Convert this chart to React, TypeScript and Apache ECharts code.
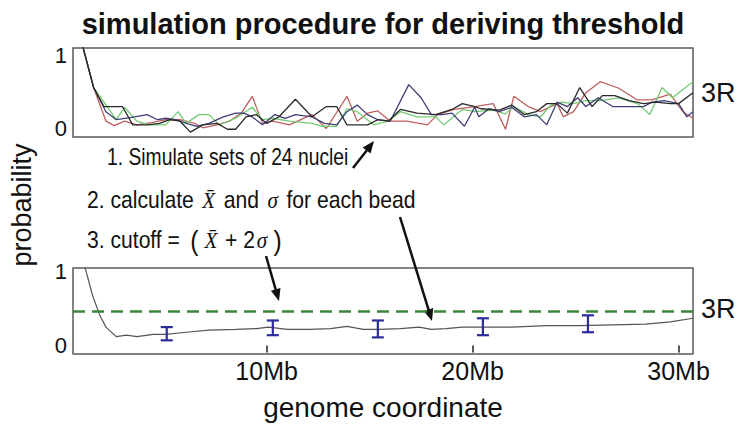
import React, { useEffect, useRef } from 'react';
import * as echarts from 'echarts';

const FONT = "'Liberation Sans', Arial, sans-serif";
const SERIF = "'Liberation Serif', 'Times New Roman', serif";

const X_MIN = 0.6;
const X_MAX = 30.7;
const xTickValues = [10, 20, 30];
const xTickLabels = ['10Mb', '20Mb', '30Mb'];
const yTickValues = [0, 1];

// simulated sets (top panel), [Mb, probability]
const redSet: [number, number][] = [[1.0,1.2],[1.6,0.56],[2.2,0.10],[2.6,0.04],[3.1,0.10],[3.7,0.05],[4.4,0.08],[5.1,0.12],[5.8,0.12],[6.5,0.07],[6.9,0.01],[7.6,0.05],[8.2,0.10],[8.8,0.22],[9.3,0.44],[9.8,0.07],[10.3,0.10],[11.1,0.05],[12.2,0.19],[12.9,0.0],[13.9,0.44],[14.4,0.10],[14.9,0.21],[15.4,0.24],[16.0,0.10],[16.8,0.10],[17.8,0.05],[18.3,0.19],[19.1,0.26],[20.1,0.30],[21.0,0.34],[21.6,-0.01],[22.0,0.44],[22.7,0.30],[23.3,0.23],[24.1,0.34],[24.4,0.16],[24.9,0.23],[25.5,0.49],[26.2,0.64],[27.1,0.55],[28.0,0.39],[28.7,0.39],[29.6,0.47],[30.2,0.23],[30.7,0.14]];
const greenSet: [number, number][] = [[1.0,1.2],[1.6,0.56],[2.7,0.12],[3.1,0.29],[3.7,0.10],[4.3,0.05],[5.1,0.05],[5.7,0.23],[6.1,0.07],[6.7,0.19],[7.2,0.19],[7.7,0.05],[8.5,0.14],[9.3,0.29],[9.8,0.12],[10.3,0.14],[11.1,0.10],[12.2,0.07],[12.7,0.03],[13.4,0.03],[13.9,0.27],[14.4,0.23],[15.2,0.05],[15.9,0.10],[16.5,0.23],[17.3,0.16],[18.2,0.16],[18.6,0.05],[19.5,0.26],[20.1,0.23],[21.0,0.25],[21.6,0.20],[22.0,0.30],[22.7,0.19],[23.3,0.16],[23.8,0.32],[24.3,0.36],[24.9,0.34],[25.5,0.38],[26.2,0.38],[27.1,0.42],[28.0,0.34],[28.6,0.19],[29.2,0.56],[29.7,0.42],[30.7,0.64]];
const navySet: [number, number][] = [[1.0,1.2],[1.6,0.56],[2.2,0.23],[2.7,0.12],[3.6,0.16],[4.2,0.19],[4.7,0.12],[5.1,0.14],[5.6,0.12],[6.1,0.07],[6.6,0.03],[7.2,0.07],[7.9,0.16],[8.5,0.21],[8.9,0.21],[9.3,0.16],[9.8,0.05],[10.4,0.19],[10.9,0.14],[11.4,0.19],[12.2,0.16],[12.8,0.07],[13.4,0.05],[13.9,0.23],[14.4,0.32],[14.9,0.19],[15.4,0.12],[16.0,0.10],[16.9,0.60],[17.5,0.42],[18.0,0.19],[18.5,0.19],[19.0,0.21],[19.6,0.03],[20.1,0.29],[20.3,0.16],[20.8,0.27],[21.3,0.23],[21.9,0.29],[22.5,0.16],[23.1,0.19],[23.6,0.05],[24.1,0.36],[24.6,0.30],[25.1,0.42],[25.5,0.30],[26.1,0.42],[26.8,0.30],[27.6,0.30],[28.3,0.30],[28.7,0.36],[29.3,0.38],[30.0,0.34],[30.4,0.16],[30.7,0.23]];
const blackSet: [number, number][] = [[1.0,1.2],[1.6,0.56],[2.1,0.30],[3.0,0.30],[3.5,0.05],[4.2,0.05],[4.8,0.07],[5.3,0.12],[5.8,0.10],[6.3,-0.05],[6.9,0.05],[7.6,0.07],[8.1,-0.01],[8.5,-0.01],[9.0,0.16],[9.5,0.19],[10.0,0.07],[10.6,0.16],[11.4,0.40],[12.2,0.16],[12.9,0.30],[13.4,0.30],[13.9,0.05],[14.9,0.05],[15.4,0.12],[15.9,0.10],[16.5,0.26],[17.3,0.21],[18.2,0.19],[19.0,0.26],[19.5,0.34],[20.1,0.30],[20.4,0.27],[21.3,0.25],[21.9,0.32],[22.5,0.19],[23.1,0.23],[23.6,0.34],[24.1,0.34],[24.6,0.21],[25.2,0.56],[25.8,0.30],[26.3,0.45],[26.9,0.45],[27.6,0.38],[28.3,0.34],[28.9,0.36],[29.6,0.34],[30.0,0.34],[30.7,0.49]];

// mean (bottom panel)
const meanLine: [number, number][] = [[1.1,1.15],[1.55,0.68],[1.9,0.41],[2.2,0.25],[2.7,0.12],[3.2,0.14],[3.7,0.12],[4.5,0.15],[5.1,0.15],[6.1,0.18],[7.2,0.21],[8.5,0.22],[9.5,0.23],[10.1,0.25],[11.0,0.22],[12.1,0.22],[13.1,0.23],[13.9,0.26],[14.7,0.22],[15.5,0.22],[16.5,0.23],[17.4,0.25],[18.0,0.22],[18.7,0.23],[19.5,0.25],[20.3,0.25],[21.9,0.25],[23.6,0.27],[25.2,0.27],[26.8,0.28],[28.4,0.29],[29.6,0.32],[30.7,0.37]];
const threshold = 0.47;

// error bars
const errX = [5.15, 10.3, 15.4, 20.5, 25.6];
const errLow = [0.07, 0.14, 0.11, 0.14, 0.18];
const errHigh = [0.25, 0.34, 0.34, 0.37, 0.41];

function arrow(x1: number, y1: number, x2: number, y2: number) {
  const head = 12, half = 5;
  const dx = x2 - x1, dy = y2 - y1;
  const len = Math.hypot(dx, dy);
  const ux = dx / len, uy = dy / len;
  const bx = x2 - ux * head, by = y2 - uy * head;
  const px = -uy, py = ux;
  return [
    { type: 'line', shape: { x1, y1, x2: bx + ux * 2, y2: by + uy * 2 }, style: { stroke: '#111', lineWidth: 2.5 } },
    { type: 'polygon', shape: { points: [[x2, y2], [bx + px * half, by + py * half], [bx - px * half, by - py * half]] }, style: { fill: '#111' } },
  ];
}

export default function App() {
  const ref = useRef<HTMLDivElement>(null);
  useEffect(() => {
    if (!ref.current) return;
    const chart = echarts.init(ref.current, undefined, { renderer: 'svg' });
    const yAxisBase = (gridIndex: number, min: number, max: number) => ({
      type: 'value', gridIndex, min, max,
      axisLine: { show: false }, axisTick: { show: false }, splitLine: { show: false },
      axisLabel: { customValues: yTickValues, fontSize: 22, color: '#111', margin: 6, fontFamily: FONT },
    });
    const lineSeries = (name: string, data: [number, number][], color: string) => ({
      name, type: 'line', xAxisIndex: 0, yAxisIndex: 0, data, showSymbol: false, symbol: 'none',
      lineStyle: { color, width: 1.3 }, clip: true, silent: true,
    });
    const option: any = {
      animation: false,
      textStyle: { fontFamily: FONT },
      grid: [
        { left: 73, top: 48, width: 620, height: 89, show: true, borderColor: '#5a5a5a', borderWidth: 1.5 },
        { left: 73, top: 268, width: 620, height: 86, show: true, borderColor: '#5a5a5a', borderWidth: 1.5 },
      ],
      xAxis: [
        { type: 'value', gridIndex: 0, min: X_MIN, max: X_MAX, axisLine: { show: false }, axisTick: { show: false }, axisLabel: { show: false }, splitLine: { show: false } },
        {
          type: 'value', gridIndex: 1, min: X_MIN, max: X_MAX, axisLine: { show: false },
          axisTick: { show: true, customValues: xTickValues, length: 7, lineStyle: { color: '#222', width: 1.5 } },
          axisLabel: { customValues: xTickValues, formatter: (v: number) => xTickLabels[xTickValues.indexOf(v)] ?? '', fontSize: 25, fontFamily: FONT, color: '#111', margin: 4 },
          splitLine: { show: false },
        },
      ],
      yAxis: [yAxisBase(0, -0.116, 1.10), yAxisBase(1, -0.116, 1.054)],
      series: [
        lineSeries('red', redSet, '#bf5f5f'),
        lineSeries('green', greenSet, '#74cc74'),
        lineSeries('navy', navySet, '#3f3f7a'),
        lineSeries('black', blackSet, '#2a2a2a'),
        {
          name: 'mean', type: 'line', xAxisIndex: 1, yAxisIndex: 1, data: meanLine, showSymbol: false, symbol: 'none',
          lineStyle: { color: '#555', width: 1.2 }, silent: true, clip: true,
          markLine: {
            silent: true, symbol: 'none', label: { show: false },
            lineStyle: { type: [12, 7], color: '#3a873a', width: 2.5 },
            data: [{ yAxis: threshold }],
          },
        },
        {
          name: 'err', type: 'custom', xAxisIndex: 1, yAxisIndex: 1, z: 5, silent: true,
          data: errX.map((x, i) => [x, errLow[i], errHigh[i]]),
          renderItem: (params: any, api: any) => {
            const x = api.value(0);
            const lo = api.coord([x, api.value(1)]);
            const hi = api.coord([x, api.value(2)]);
            const w = 6;
            const style = { stroke: '#2b2b9c', lineWidth: 2.2 };
            return {
              type: 'group', children: [
                { type: 'line', shape: { x1: lo[0], y1: lo[1], x2: hi[0], y2: hi[1] }, style },
                { type: 'line', shape: { x1: lo[0] - w, y1: lo[1], x2: lo[0] + w, y2: lo[1] }, style },
                { type: 'line', shape: { x1: hi[0] - w, y1: hi[1], x2: hi[0] + w, y2: hi[1] }, style },
              ],
            };
          },
        },
      ],
      graphic: [
        { type: 'text', x: 383, y: 24, style: { text: 'simulation procedure for deriving threshold', align: 'center', verticalAlign: 'middle', fontSize: 29, fontWeight: 'bold', fontFamily: FONT, fill: '#111' } },
        { type: 'text', x: 22, y: 205, rotation: Math.PI / 2, style: { text: 'probability', align: 'center', verticalAlign: 'middle', fontSize: 27, fontFamily: FONT, fill: '#111' } },
        { type: 'text', x: 701, y: 93, style: { text: '3R', align: 'left', verticalAlign: 'middle', fontSize: 27, fontFamily: FONT, fill: '#111' } },
        { type: 'text', x: 701, y: 309, style: { text: '3R', align: 'left', verticalAlign: 'middle', fontSize: 27, fontFamily: FONT, fill: '#111' } },
        { type: 'text', x: 383, y: 407, style: { text: 'genome coordinate', align: 'center', verticalAlign: 'middle', fontSize: 28, fontFamily: FONT, fill: '#111' } },
        { type: 'text', x: 107, y: 157, scaleX: 0.84, style: { text: '1. Simulate sets of 24 nuclei', align: 'left', verticalAlign: 'middle', fontSize: 23, fontFamily: FONT, fill: '#111' } },
        {
          type: 'text', x: 87, y: 200, scaleX: 0.88, style: {
            text: '{a|2. calculate }{m|X\u0304}{a| and }{m|\u03c3}{a| for each bead}', align: 'left', verticalAlign: 'middle',
            rich: { a: { fontSize: 24, fontFamily: FONT, fill: '#111' }, m: { fontSize: 24, fontFamily: SERIF, fontStyle: 'italic', fill: '#111', padding: [0, 3, 0, 3] } },
          },
        },
        {
          type: 'text', x: 87, y: 240, scaleX: 0.88, style: {
            text: '{a|3. cutoff = }{p|(}{m|X\u0304}{a| + 2}{m|\u03c3}{p|)}', align: 'left', verticalAlign: 'middle',
            rich: { a: { fontSize: 24, fontFamily: FONT, fill: '#111' }, m: { fontSize: 24, fontFamily: SERIF, fontStyle: 'italic', fill: '#111', padding: [0, 2, 0, 2] }, p: { fontSize: 28, fontFamily: FONT, fill: '#111', padding: [0, 5, 0, 5] } },
          },
        },
        ...arrow(353, 168, 374, 141),
        ...arrow(400, 217, 432, 321),
        ...arrow(266, 256, 279, 301),
      ],
    };
    chart.setOption(option);
    return () => chart.dispose();
  }, []);
  return <div ref={ref} style={{ position: 'absolute', left: 0, top: 0, width: 743, height: 426 }} />;
}
